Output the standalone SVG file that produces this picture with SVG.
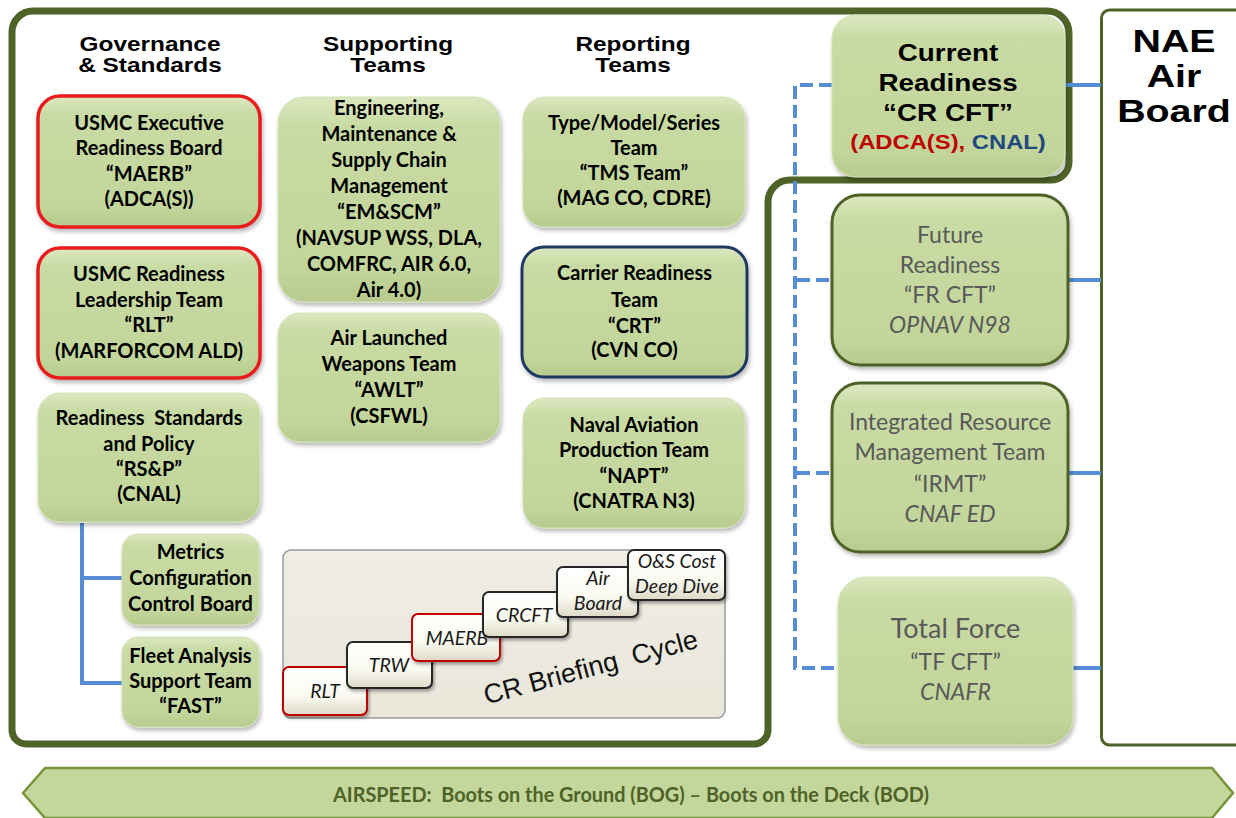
<svg xmlns="http://www.w3.org/2000/svg" width="1236" height="818" viewBox="0 0 1236 818">
<defs>
<linearGradient id="gGreen" x1="0" y1="0" x2="0" y2="1">
<stop offset="0" stop-color="#DCE8C1"/>
<stop offset="0.14" stop-color="#C9DBA4"/>
<stop offset="0.85" stop-color="#C2D59A"/>
<stop offset="1" stop-color="#B7CB8E"/>
</linearGradient>
<linearGradient id="gStep" x1="0" y1="0" x2="0" y2="1">
<stop offset="0" stop-color="#FFFFFF"/>
<stop offset="0.6" stop-color="#FBFAF1"/>
<stop offset="1" stop-color="#DCD9C6"/>
</linearGradient>
<linearGradient id="gPanel" x1="0" y1="0" x2="0" y2="1">
<stop offset="0" stop-color="#F0EEE4"/>
<stop offset="1" stop-color="#E9E7DA"/>
</linearGradient>
<filter id="sh" x="-10%" y="-10%" width="125%" height="130%">
<feDropShadow dx="1.5" dy="3" stdDeviation="2" flood-color="#000" flood-opacity="0.28"/>
</filter>
<filter id="shs" x="-10%" y="-10%" width="130%" height="140%">
<feDropShadow dx="1.5" dy="2.5" stdDeviation="1.5" flood-color="#000" flood-opacity="0.35"/>
</filter>
</defs>
<style>
.hdr{font-family:"Liberation Sans",Arial,sans-serif;font-weight:bold;font-size:20px;fill:#000;text-anchor:middle}
.nae{font-family:"Liberation Sans",Arial,sans-serif;font-weight:bold;font-size:31px;fill:#000;text-anchor:middle}
.bx{font-family:Lato,"Liberation Sans",sans-serif;font-weight:bold;font-size:20px;fill:#000;text-anchor:middle}
.gr{font-family:Lato,"Liberation Sans",sans-serif;font-size:23px;fill:#595959;text-anchor:middle}
.it{font-style:italic}
.step{font-family:Lato,"Liberation Sans",sans-serif;font-style:italic;font-size:19.5px;fill:#1A1A1A;text-anchor:middle}
.box{fill:url(#gGreen);stroke:#D3E1B3;stroke-width:1;filter:url(#sh)}
.red{stroke:#E81C1C;stroke-width:3.5}
.dk{stroke:#4F6228;stroke-width:3}
.blu{stroke:#1F3864;stroke-width:3}
.sbox{fill:url(#gStep);stroke:#262626;stroke-width:2;filter:url(#shs)}
.sred{stroke:#C00000}
.solid{fill:none;stroke:#558ED5;stroke-width:4}
.dash{fill:none;stroke:#558ED5;stroke-width:4;stroke-dasharray:13 6}
</style>

<!-- frames -->
<g id="frame">
<path d="M 33 11 H 1047 A 22 22 0 0 1 1069 33 V 162 A 18 18 0 0 1 1051 180 H 790 A 22 22 0 0 0 768 202 V 730 A 14 14 0 0 1 754 744 H 26 A 14 14 0 0 1 12 730 V 32 A 21 21 0 0 1 33 11 Z" fill="none" stroke="#4F6228" stroke-width="7" stroke-linejoin="round"/>
</g>

<g id="nae-air-board">
<rect x="1101.5" y="10" width="150" height="735" rx="8" fill="#FFFFFF" stroke="#4F6228" stroke-width="3"/>
<text class="nae" transform="translate(1174 0) scale(1.27 1)" x="0" y="52">NAE</text>
<text class="nae" transform="translate(1174 0) scale(1.27 1)" x="0" y="87">Air</text>
<text class="nae" transform="translate(1174 0) scale(1.27 1)" x="0" y="122">Board</text>
</g>

<!-- headers -->
<g id="headers">
<text class="hdr" transform="translate(150 0) scale(1.22 1)" x="0" y="51">Governance</text>
<text class="hdr" transform="translate(150 0) scale(1.22 1)" x="0" y="72">&amp; Standards</text>
<text class="hdr" transform="translate(388 0) scale(1.22 1)" x="0" y="51">Supporting</text>
<text class="hdr" transform="translate(388 0) scale(1.22 1)" x="0" y="72">Teams</text>
<text class="hdr" transform="translate(633 0) scale(1.22 1)" x="0" y="51">Reporting</text>
<text class="hdr" transform="translate(633 0) scale(1.22 1)" x="0" y="72">Teams</text>
</g>

<!-- connectors -->
<g id="connectors">
<path class="solid" d="M 82 523 V 683 H 122 M 80 578 H 122"/>
<path class="solid" d="M 1065 85 H 1101 M 1068 280 H 1101 M 1068 473 H 1101 M 1073 668 H 1101"/>
<path class="dash" d="M 832 85 H 795 V 668 H 838"/>
<path class="dash" d="M 797 280 H 832 M 797 473 H 832"/>
</g>

<!-- Governance column -->
<g id="maerb">
<rect class="box red" x="38" y="96" width="222" height="131" rx="22"/>
<text class="bx" x="149" y="130">USMC Executive</text>
<text class="bx" x="149" y="155">Readiness Board</text>
<text class="bx" x="149" y="181">“MAERB”</text>
<text class="bx" x="149" y="206">(ADCA(S))</text>
</g>
<g id="rlt">
<rect class="box red" x="38" y="248" width="222" height="130" rx="22"/>
<text class="bx" x="149" y="281">USMC Readiness</text>
<text class="bx" x="149" y="307">Leadership Team</text>
<text class="bx" x="149" y="332">“RLT”</text>
<text class="bx" x="149" y="358">(MARFORCOM ALD)</text>
</g>
<g id="rsp">
<rect class="box" x="38" y="393" width="222" height="129" rx="22"/>
<text class="bx" x="149" y="425" xml:space="preserve">Readiness  Standards</text>
<text class="bx" x="149" y="451">and Policy</text>
<text class="bx" x="149" y="476">“RS&amp;P”</text>
<text class="bx" x="149" y="501">(CNAL)</text>
</g>
<g id="mccb">
<rect class="box" x="122" y="534" width="137" height="91" rx="16"/>
<text class="bx" x="190.5" y="559">Metrics</text>
<text class="bx" x="190.5" y="585">Configuration</text>
<text class="bx" x="190.5" y="611">Control Board</text>
</g>
<g id="fast">
<rect class="box" x="122" y="637" width="137" height="90" rx="16"/>
<text class="bx" x="190.5" y="663">Fleet Analysis</text>
<text class="bx" x="190.5" y="688">Support Team</text>
<text class="bx" x="190.5" y="713">“FAST”</text>
</g>

<!-- Supporting column -->
<g id="emscm">
<rect class="box" x="278" y="97" width="222" height="205" rx="26"/>
<text class="bx" x="389" y="115">Engineering,</text>
<text class="bx" x="389" y="141">Maintenance &amp;</text>
<text class="bx" x="389" y="167">Supply Chain</text>
<text class="bx" x="389" y="193">Management</text>
<text class="bx" x="389" y="219">“EM&amp;SCM”</text>
<text class="bx" x="389" y="245">(NAVSUP WSS, DLA,</text>
<text class="bx" x="389" y="271">COMFRC, AIR 6.0,</text>
<text class="bx" x="389" y="297">Air 4.0)</text>
</g>
<g id="awlt">
<rect class="box" x="278" y="313" width="222" height="129" rx="22"/>
<text class="bx" x="389" y="345">Air Launched</text>
<text class="bx" x="389" y="371">Weapons Team</text>
<text class="bx" x="389" y="397">“AWLT”</text>
<text class="bx" x="389" y="423">(CSFWL)</text>
</g>

<!-- Reporting column -->
<g id="tms">
<rect class="box" x="523" y="97" width="222" height="130" rx="22"/>
<text class="bx" x="634" y="130">Type/Model/Series</text>
<text class="bx" x="634" y="155">Team</text>
<text class="bx" x="634" y="180">“TMS Team”</text>
<text class="bx" x="634" y="205">(MAG CO, CDRE)</text>
</g>
<g id="crt">
<rect class="box blu" x="522" y="247" width="225" height="130" rx="22"/>
<text class="bx" x="634.5" y="280">Carrier Readiness</text>
<text class="bx" x="634.5" y="307">Team</text>
<text class="bx" x="634.5" y="333">“CRT”</text>
<text class="bx" x="634.5" y="357">(CVN CO)</text>
</g>
<g id="napt">
<rect class="box" x="523" y="398" width="222" height="130" rx="22"/>
<text class="bx" x="634" y="432">Naval Aviation</text>
<text class="bx" x="634" y="457">Production Team</text>
<text class="bx" x="634" y="483">“NAPT”</text>
<text class="bx" x="634" y="508">(CNATRA N3)</text>
</g>

<!-- Briefing cycle -->
<g id="briefing-cycle">
<rect x="283" y="550" width="442" height="168" rx="8" fill="url(#gPanel)" stroke="#9A9A9A" stroke-width="1.5"/>
<g id="step-rlt"><rect class="sbox sred" x="283" y="667" width="84" height="48" rx="6"/><text class="step" x="325" y="698">RLT</text></g>
<g id="step-trw"><rect class="sbox" x="347" y="642" width="85" height="46" rx="6"/><text class="step" x="389" y="672">TRW</text></g>
<g id="step-maerb"><rect class="sbox sred" x="412" y="614" width="88" height="47" rx="6"/><text class="step" x="457" y="645">MAERB</text></g>
<g id="step-crcft"><rect class="sbox" x="483" y="592" width="85" height="45" rx="6"/><text class="step" x="524" y="622">CRCFT</text></g>
<g id="step-airboard"><rect class="sbox" x="557" y="567" width="81" height="50" rx="6"/><text class="step" x="598" y="585">Air</text><text class="step" x="598" y="610">Board</text></g>
<g id="step-os"><rect class="sbox" x="628" y="550" width="97" height="50" rx="6"/><text class="step" x="677" y="568">O&amp;S Cost</text><text class="step" x="677" y="593">Deep Dive</text></g>
<text x="593" y="676" transform="rotate(-15 593 676)" xml:space="preserve" style="font-family:'Liberation Sans',Arial,sans-serif;font-size:27px;fill:#111;text-anchor:middle">CR Briefing  Cycle</text>
</g>

<!-- Right column -->
<g id="cr-cft">
<rect class="box" x="832" y="15" width="233" height="162" rx="24"/>
<text class="hdr" style="font-size:24px" transform="translate(948 0) scale(1.16 1)" x="0" y="61">Current</text>
<text class="hdr" style="font-size:24px" transform="translate(948 0) scale(1.16 1)" x="0" y="91">Readiness</text>
<text class="hdr" style="font-size:24px" transform="translate(948 0) scale(1.16 1)" x="0" y="121">“CR CFT”</text>
<text class="hdr" style="font-size:20px" transform="translate(948 0) scale(1.19 1)" x="0" y="149"><tspan fill="#C00000">(ADCA(S), </tspan><tspan fill="#1F497D">CNAL)</tspan></text>
</g>
<g id="fr-cft">
<rect class="box dk" x="832" y="195" width="236" height="170" rx="28"/>
<text class="gr" x="950" y="243">Future</text>
<text class="gr" x="950" y="273">Readiness</text>
<text class="gr" x="950" y="303">“FR CFT”</text>
<text class="gr it" x="950" y="333">OPNAV N98</text>
</g>
<g id="irmt">
<rect class="box dk" x="832" y="383" width="236" height="169" rx="28"/>
<text class="gr" x="950" y="430">Integrated Resource</text>
<text class="gr" x="950" y="460">Management Team</text>
<text class="gr" x="950" y="492">“IRMT”</text>
<text class="gr it" x="950" y="522">CNAF ED</text>
</g>
<g id="tf-cft">
<rect class="box" x="838" y="577" width="235" height="168" rx="28"/>
<text class="gr" style="font-size:27px" x="955.5" y="638">Total Force</text>
<text class="gr" x="955.5" y="670">“TF CFT”</text>
<text class="gr it" x="955.5" y="700">CNAFR</text>
</g>

<!-- Banner -->
<g id="airspeed-banner">
<polygon points="23,793 45,768 1212,768 1233,793 1212,818 45,818" fill="#C3D69B" stroke="#77933C" stroke-width="2.5"/>
<text x="333" y="802" textLength="596" lengthAdjust="spacingAndGlyphs" xml:space="preserve" style="font-family:Lato,'Liberation Sans',sans-serif;font-weight:bold;font-size:20px;fill:#4F6228">AIRSPEED:  Boots on the Ground (BOG) – Boots on the Deck (BOD)</text>
</g>
</svg>
